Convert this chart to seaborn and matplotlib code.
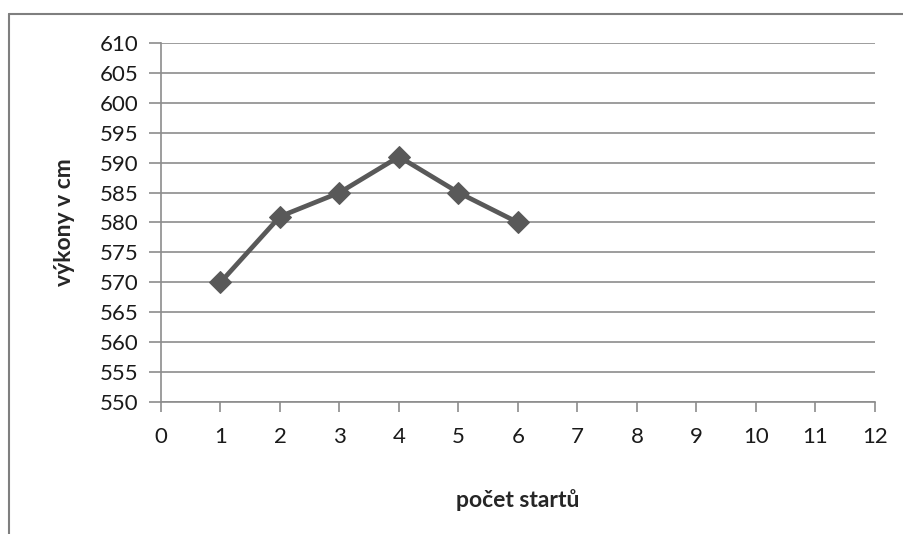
import matplotlib
matplotlib.use("Agg")
import matplotlib.pyplot as plt
from matplotlib.lines import Line2D
import pandas as pd
import seaborn as sns

# data
starty = [1, 2, 3, 4, 5, 6]
vykony = [570, 581, 585, 591, 585, 580]
x_ticks = list(range(0, 13))
y_ticks = list(range(550, 611, 5))

df = pd.DataFrame({"start": starty, "vykon": vykony})

sns.set_style("white")
plt.rcParams["font.family"] = ["Lato", "DejaVu Sans"]

W, H = 904, 534
fig = plt.figure(figsize=(W / 100, H / 100), dpi=100)
ax = fig.add_axes([161 / W, (H - 402) / H, (875 - 161) / W, (402 - 43) / H])

grid_col = "#8c8c8c"
line_col = "#595959"

sns.lineplot(data=df, x="start", y="vykon", ax=ax, color=line_col,
             linewidth=3.4, marker="D", markersize=11,
             markeredgecolor=line_col, markerfacecolor=line_col, zorder=5)

ax.set_xlim(0, 12)
ax.set_ylim(550, 610)
ax.set_xticks(x_ticks)
ax.set_yticks(y_ticks)
ax.yaxis.grid(True, color=grid_col, linewidth=1.2)
ax.xaxis.grid(False)

for s in ["top", "right"]:
    ax.spines[s].set_visible(False)
for s in ["left", "bottom"]:
    ax.spines[s].set_color(grid_col)
    ax.spines[s].set_linewidth(1.2)

ax.tick_params(axis="y", direction="out", length=9, width=1.2, color=grid_col,
               labelsize=16, pad=7, labelcolor="#1a1a1a")
ax.tick_params(axis="x", direction="out", length=7, width=1.2, color=grid_col,
               labelsize=16, pad=11, labelcolor="#1a1a1a")
ax.tick_params(left=True, bottom=True)

ax.set_xlabel("počet startů", fontsize=16.5, fontweight="bold", labelpad=30)
ax.set_ylabel("výkony v cm", fontsize=16.5, fontweight="bold", labelpad=18)

# outer frame of the chart (left and top edges visible)
fig.add_artist(Line2D([8.5 / W, 8.5 / W], [0, 1 - 13.5 / H], transform=fig.transFigure,
                      color="#7f7f7f", linewidth=1.5))
fig.add_artist(Line2D([8.5 / W, 1], [1 - 13.5 / H, 1 - 13.5 / H], transform=fig.transFigure,
                      color="#7f7f7f", linewidth=1.5))

fig.savefig("out.png", dpi=100)
